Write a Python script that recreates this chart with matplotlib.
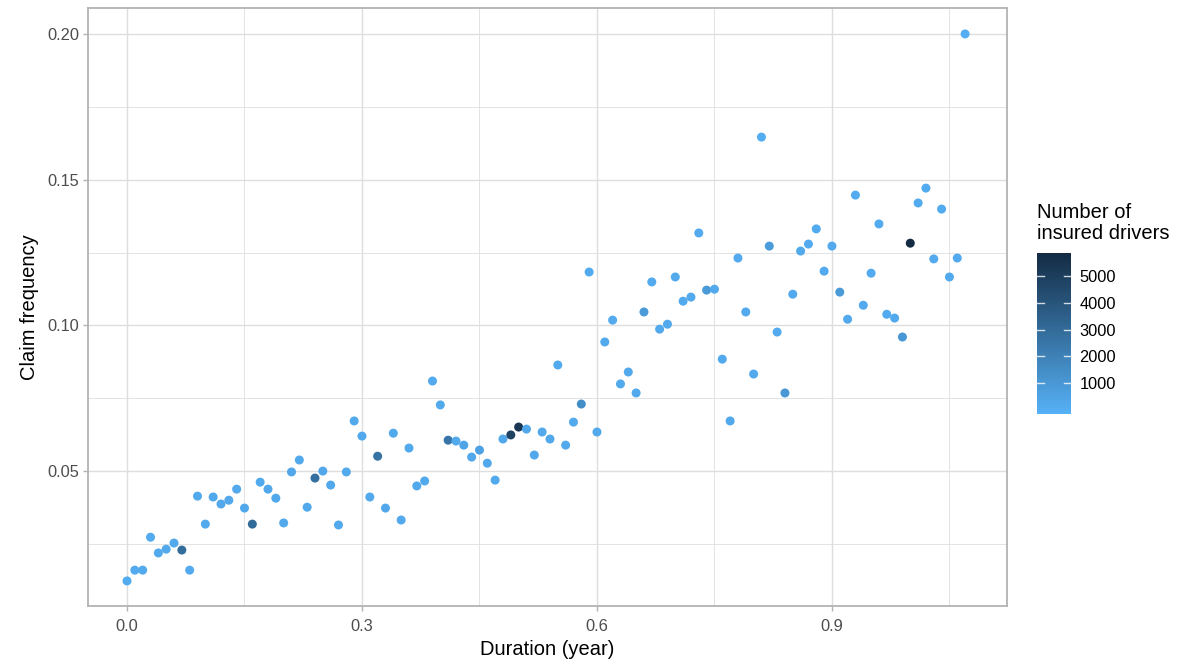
import matplotlib
matplotlib.use('Agg')
import matplotlib.pyplot as plt
import numpy as np
from matplotlib.colors import LinearSegmentedColormap, Normalize
from matplotlib.cm import ScalarMappable
from matplotlib.ticker import MultipleLocator

plt.rcParams['font.family'] = ['Liberation Sans', 'DejaVu Sans']

# duration in years (0.00 .. 1.07)
duration = [round(i * 0.01, 2) for i in range(108)]

claim_freq = [
    0.0123, 0.0160, 0.0160, 0.0273, 0.0219, 0.0232, 0.0253, 0.0229, 0.0160, 0.0414,
    0.0318, 0.0411, 0.0387, 0.0400, 0.0438, 0.0373, 0.0318, 0.0462, 0.0438, 0.0407,
    0.0322, 0.0497, 0.0538, 0.0376, 0.0476, 0.0500, 0.0452, 0.0315, 0.0497, 0.0672,
    0.0620, 0.0411, 0.0551, 0.0373, 0.0630, 0.0332, 0.0579, 0.0449, 0.0466, 0.0809,
    0.0727, 0.0606, 0.0603, 0.0589, 0.0548, 0.0572, 0.0527, 0.0469, 0.0610, 0.0624,
    0.0651, 0.0644, 0.0555, 0.0634, 0.0610, 0.0864, 0.0589, 0.0668, 0.0730, 0.1183,
    0.0634, 0.0943, 0.1018, 0.0799, 0.0840, 0.0768, 0.1046, 0.1149, 0.0987, 0.1004,
    0.1166, 0.1083, 0.1097, 0.1317, 0.1121, 0.1124, 0.0884, 0.0672, 0.1231, 0.1046,
    0.0833, 0.1646, 0.1272, 0.0977, 0.0768, 0.1107, 0.1255, 0.1279, 0.1331, 0.1186,
    0.1272, 0.1114, 0.1021, 0.1447, 0.1069, 0.1179, 0.1348, 0.1038, 0.1025, 0.0960,
    0.1282, 0.1420, 0.1471, 0.1228, 0.1399, 0.1166, 0.1231, 0.2000,
]

n_drivers = [
    250, 300, 320, 280, 350, 330, 360, 2900, 300, 380,
    340, 420, 390, 400, 380, 410, 3000, 360, 390, 420,
    380, 400, 370, 420, 2800, 390, 410, 380, 360, 340,
    380, 360, 2700, 400, 380, 360, 340, 380, 360, 300,
    350, 2600, 380, 520, 400, 650, 420, 380, 420, 4700,
    5200, 420, 400, 380, 420, 360, 380, 360, 1500, 280,
    350, 320, 300, 360, 340, 380, 950, 300, 360, 340,
    320, 330, 340, 300, 1000, 350, 330, 340, 310, 300,
    330, 200, 900, 300, 1100, 380, 320, 300, 290, 310,
    300, 950, 320, 260, 300, 290, 280, 300, 330, 1100,
    5730, 280, 260, 300, 270, 320, 300, 120,
]

cbar_ticks = [1000, 2000, 3000, 4000, 5000]

cmap = LinearSegmentedColormap.from_list('gg', ['#56B1F7', '#132B43'])
norm = Normalize(vmin=0, vmax=5730)

fig = plt.figure(figsize=(11.77, 6.64), dpi=100)
ax = fig.add_axes([88 / 1177, 1 - 606 / 664, (1007 - 88) / 1177, (606 - 8) / 664])

sc = ax.scatter(duration, claim_freq, c=n_drivers, cmap=cmap, norm=norm,
                s=42, linewidths=0, zorder=3)

ax.set_xlim(-0.0498, 1.1235)
ax.set_ylim(0.0037, 0.2089)
ax.xaxis.set_minor_locator(MultipleLocator(0.15))
ax.yaxis.set_minor_locator(MultipleLocator(0.025))
ax.set_xticks([0.0, 0.3, 0.6, 0.9])
ax.set_xticklabels(['0.0', '0.3', '0.6', '0.9'])
ax.set_yticks([0.05, 0.10, 0.15, 0.20])
ax.set_yticklabels(['0.05', '0.10', '0.15', '0.20'])

ax.grid(which='major', color='#dedede', linewidth=1.0, zorder=0)
ax.grid(which='minor', color='#dedede', linewidth=0.6, zorder=0)
ax.set_axisbelow(True)
for sp in ax.spines.values():
    sp.set_color('#b3b3b3')
    sp.set_linewidth(1.3)
ax.tick_params(which='major', length=3.5, color='#b3b3b3', width=1,
               labelsize=11.8, labelcolor='#4d4d4d')
ax.tick_params(axis='x', pad=6)
ax.tick_params(axis='y', pad=3)
ax.tick_params(which='minor', length=0)

ax.set_xlabel('Duration (year)', fontsize=14.5, color='black', labelpad=4)
ax.set_ylabel('Claim frequency', fontsize=14.5, color='black', labelpad=6)

# colourbar legend (ggplot-style bar: ticks inset half a bin from the ends)
cax = fig.add_axes([1037 / 1177, 1 - 414 / 664, 34 / 1177, 161 / 664])
bar_sm = ScalarMappable(norm=Normalize(vmin=-160, vmax=5880), cmap=cmap)
cb = fig.colorbar(bar_sm, cax=cax, ticks=cbar_ticks)
cb.outline.set_visible(False)
cax.tick_params(length=0, labelsize=11.8, labelcolor='black', pad=6)
for v in cbar_ticks:
    cax.plot([0, 0.2], [v, v], color='white', lw=1, alpha=0.8)
    cax.plot([0.8, 1.0], [v, v], color='white', lw=1, alpha=0.8)
fig.text(1037 / 1177, 1 - 223 / 664, 'Number of\ninsured drivers', fontsize=14.5,
         va='center', ha='left', linespacing=1.15)

fig.savefig('out.png', dpi=100)
